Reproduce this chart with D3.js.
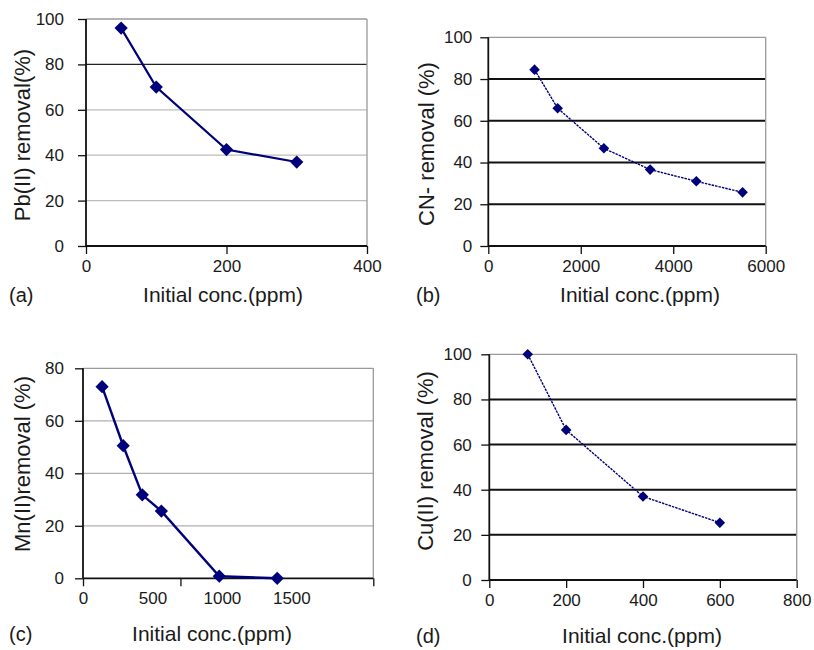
<!DOCTYPE html>
<html>
<head>
<meta charset="utf-8">
<script src="https://cdn.jsdelivr.net/npm/d3@7"></script>
<style>
  html, body { margin: 0; padding: 0; background: #fff; }
  svg { display: block; font-family: "Liberation Sans", Arial, Helvetica, sans-serif; }
</style>
</head>
<body>
<svg id="chart" width="814" height="650"></svg>
<script>
// ---- Data ----
// (a) Pb(II)
const pbConc = [50, 100, 200, 300];
const pbRemoval = [96, 70, 42.5, 37];
const pbXTicks = [0, 200, 400];
const pbYTicks = [0, 20, 40, 60, 80, 100];

// (b) CN-
const cnConc = [1000, 1500, 2500, 3500, 4500, 5500];
const cnRemoval = [84.5, 66, 46.8, 36.6, 31, 25.7];
const cnXTicks = [0, 2000, 4000, 6000];
const cnYTicks = [0, 20, 40, 60, 80, 100];

// (c) Mn(II)
const mnConc = [140, 295, 435, 575, 1000, 1425];
const mnRemoval = [73, 50.5, 31.8, 25.6, 0.8, 0];
const mnXTickMarks = [0, 715, 2130];
const mnXTickLabels = [0, 500, 1000, 1500];
const mnYTicks = [0, 20, 40, 60, 80];

// (d) Cu(II)
const cuConc = [100, 200, 400, 600];
const cuRemoval = [100, 66.5, 37, 25.4];
const cuXTicks = [0, 200, 400, 600, 800];
const cuYTicks = [0, 20, 40, 60, 80, 100];

const panelLetters = ["(a)", "(b)", "(c)", "(d)"];
const yTitles = ["Pb(II) removal(%)", "CN- removal (%)", "Mn(II)removal (%)", "Cu(II) removal (%)"];
const xTitle = "Initial conc.(ppm)";

// ---- Drawing ----
const svg = d3.select("#chart");
const navy = "#00007a";

function panel(cfg) {
  const g = svg.append("g");
  const x = d3.scaleLinear().domain(cfg.xDomain).range([cfg.x0, cfg.x1]);
  const y = d3.scaleLinear().domain(cfg.yDomain).range([cfg.yB, cfg.yT]);

  // gridlines
  g.selectAll("line.grid").data(cfg.yTicks.filter(v => v > cfg.yDomain[0] && v < cfg.yDomain[1]))
    .enter().append("line")
    .attr("x1", cfg.x0).attr("x2", cfg.x1)
    .attr("y1", d => y(d)).attr("y2", d => y(d))
    .attr("stroke", d => cfg.gridColor(d)).attr("stroke-width", cfg.gridWidth);

  // top & right border
  g.append("line").attr("x1", cfg.x0).attr("x2", cfg.x1).attr("y1", y(cfg.yDomain[1])).attr("y2", y(cfg.yDomain[1]))
    .attr("stroke", "#9a9a9a").attr("stroke-width", 1.3);
  g.append("line").attr("x1", cfg.x1).attr("x2", cfg.x1).attr("y1", cfg.yT).attr("y2", cfg.yB)
    .attr("stroke", "#9a9a9a").attr("stroke-width", 1.3);

  // y axis
  const ya = g.append("g").attr("transform", `translate(${cfg.x0},0)`)
    .call(d3.axisLeft(y).tickValues(cfg.yTicks).tickSize(8).tickPadding(cfg.yPad).tickFormat(d3.format("d")));
  ya.select(".domain").remove();
  ya.selectAll(".tick line").attr("stroke", "#111").attr("stroke-width", 1.3);
  ya.selectAll(".tick text").attr("font-size", 17).attr("fill", "#1a1a1a")
    .attr("font-family", "'Liberation Sans', Arial, sans-serif");
  g.append("line").attr("x1", cfg.x0).attr("x2", cfg.x0).attr("y1", cfg.yT).attr("y2", cfg.yB)
    .attr("stroke", "#111").attr("stroke-width", 1.8);

  // x axis
  const xa = g.append("g").attr("transform", `translate(0,${cfg.yB})`)
    .call(d3.axisBottom(x).tickValues(cfg.xTickMarks).tickSize(8).tickPadding(6)
      .tickFormat(cfg.xTickLabels ? () => "" : d3.format("d")));
  xa.select(".domain").remove();
  xa.selectAll(".tick line").attr("stroke", "#111").attr("stroke-width", 1.3);
  xa.selectAll(".tick text").attr("font-size", 17).attr("fill", "#1a1a1a")
    .attr("font-family", "'Liberation Sans', Arial, sans-serif");
  if (cfg.xTickLabels) {
    const xl = g.append("g").attr("transform", `translate(0,${cfg.yB})`)
      .call(d3.axisBottom(x).tickValues(cfg.xTickLabels).tickSize(0).tickPadding(14).tickFormat(d3.format("d")));
    xl.select(".domain").remove();
    xl.selectAll(".tick text").attr("font-size", 17).attr("fill", "#1a1a1a")
      .attr("font-family", "'Liberation Sans', Arial, sans-serif")
      .attr("dx", (d, i) => i * 1.3);
  }
  g.append("line").attr("x1", cfg.x0).attr("x2", cfg.x1).attr("y1", cfg.yB).attr("y2", cfg.yB)
    .attr("stroke", "#111").attr("stroke-width", 1.8);

  // line
  const pts = cfg.xs.map((v, i) => [v, cfg.ys[i]]);
  g.append("path").datum(pts)
    .attr("d", d3.line().x(d => x(d[0])).y(d => y(d[1])))
    .attr("fill", "none").attr("stroke", navy).attr("stroke-width", cfg.lineWidth)
    .attr("stroke-dasharray", cfg.dash || null);

  // markers (rotated squares = diamonds)
  g.selectAll("path.mk").data(pts).enter().append("path")
    .attr("d", d3.symbol(d3.symbolSquare, cfg.markerArea)())
    .attr("transform", d => `translate(${x(d[0])},${y(d[1])}) rotate(45)`)
    .attr("fill", navy);

  // titles
  g.append("text").attr("x", cfg.yTitleX).attr("y", cfg.yTitleY)
    .attr("transform", `rotate(-90,${cfg.yTitleX},${cfg.yTitleY})`)
    .attr("text-anchor", "middle").attr("dominant-baseline", "central")
    .attr("font-size", 22).attr("fill", "#1a1a1a").text(cfg.yTitle);
  g.append("text").attr("x", cfg.xTitleX).attr("y", cfg.xTitleY)
    .attr("text-anchor", "middle").attr("font-size", 21).attr("fill", "#1a1a1a").text(xTitle);
  g.append("text").attr("x", cfg.letterX).attr("y", cfg.xTitleY)
    .attr("font-size", 20).attr("fill", "#1a1a1a").text(cfg.letter);
}

panel({
  xs: pbConc, ys: pbRemoval, xDomain: [0, 400], yDomain: [0, 100],
  xTickMarks: pbXTicks, yTicks: pbYTicks, yPad: 14,
  x0: 86, x1: 367, yT: 19, yB: 246,
  gridColor: d => d === 80 ? "#222" : "#bdbdbd", gridWidth: 1.2,
  lineWidth: 2.2, markerArea: 88,
  yTitle: yTitles[0], yTitleX: 22, yTitleY: 135,
  xTitleX: 223, xTitleY: 302, letter: panelLetters[0], letterX: 9
});
panel({
  xs: cnConc, ys: cnRemoval, xDomain: [0, 6000], yDomain: [0, 100],
  xTickMarks: cnXTicks, yTicks: cnYTicks, yPad: 8,
  x0: 488.3, x1: 765.7, yT: 37.3, yB: 246,
  gridColor: () => "#111", gridWidth: 2,
  lineWidth: 1.4, dash: "2.5,1", markerArea: 56,
  yTitle: yTitles[1], yTitleX: 426, yTitleY: 144,
  xTitleX: 640, xTitleY: 302, letter: panelLetters[1], letterX: 416
});
panel({
  xs: mnConc, ys: mnRemoval, xDomain: [0, 2130], yDomain: [0, 80],
  xTickMarks: mnXTickMarks, xTickLabels: mnXTickLabels, yTicks: mnYTicks, yPad: 11,
  x0: 83, x1: 373.3, yT: 368.3, yB: 578.3,
  gridColor: () => "#b0b0b0", gridWidth: 1.2,
  lineWidth: 2.4, markerArea: 88,
  yTitle: yTitles[2], yTitleX: 22, yTitleY: 464,
  xTitleX: 212, xTitleY: 641, letter: panelLetters[2], letterX: 9
});
panel({
  xs: cuConc, ys: cuRemoval, xDomain: [0, 800], yDomain: [0, 100],
  xTickMarks: cuXTicks, yTicks: cuYTicks, yPad: 9.5,
  x0: 489.3, x1: 796.7, yT: 354.3, yB: 580,
  gridColor: () => "#111", gridWidth: 2,
  lineWidth: 1.4, dash: "2.5,1", markerArea: 56,
  yTitle: yTitles[3], yTitleX: 425, yTitleY: 461,
  xTitleX: 642, xTitleY: 643, letter: panelLetters[3], letterX: 416
});
</script>
</body>
</html>
